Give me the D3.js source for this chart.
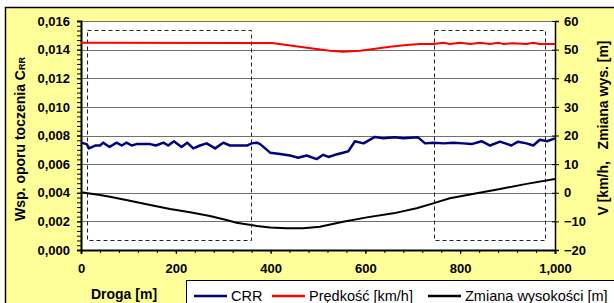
<!DOCTYPE html>
<html>
<head>
<meta charset="utf-8">
<script src="https://cdn.jsdelivr.net/npm/d3@7"></script>
<style>
  body { margin: 0; background: #fff; }
  text { font-family: Arial, "Liberation Sans", sans-serif; }
</style>
</head>
<body>
<div class="chart"></div>
<script>
// CRR (left axis) - distance [m], value
const crrDist = [0, 12, 17, 30, 40, 47, 60, 75, 86, 96, 107, 117, 146, 158, 174, 184, 196, 212, 224, 237,
  251, 265, 283, 300, 314, 350, 360, 371, 378, 399, 420, 441, 458, 476, 497, 511, 522, 536, 553, 564,
  578, 596, 620, 638, 662, 680, 711, 726, 744, 765, 785, 806, 824, 845, 863, 884, 908, 922, 940, 954,
  968, 983, 1000];
const crrVal = [0.0075, 0.0074, 0.0071, 0.0073, 0.0073, 0.0075, 0.0072, 0.0075, 0.0073, 0.0075, 0.0073, 0.0074, 0.0074, 0.0073, 0.0075, 0.0073, 0.0076, 0.0072, 0.0075, 0.0071,
  0.0073, 0.00745, 0.0071, 0.0075, 0.0073, 0.0073, 0.00745, 0.0075, 0.0074, 0.0068, 0.0067, 0.0066, 0.00645, 0.0066, 0.00635, 0.00665, 0.0065, 0.00665, 0.0068, 0.0069,
  0.0076, 0.00745, 0.0079, 0.0078, 0.00787, 0.0078, 0.00787, 0.00745, 0.0075, 0.00745, 0.0075, 0.00745, 0.0074, 0.0076, 0.0073, 0.00757, 0.0073, 0.00757, 0.00745, 0.0073,
  0.0077, 0.0076, 0.0078];

// speed [km/h] (right axis)
const speedDist = [0, 357, 403, 434, 469, 497, 525, 553, 589, 617, 652, 687, 715, 743, 765, 778, 800, 821, 842, 863, 880, 890, 911, 940, 954, 968, 1000];
const speedVal = [52.4, 52.3, 52.3, 51.6, 50.8, 50.2, 49.6, 49.3, 49.6, 50.2, 51.0, 51.6, 52.0, 52.0, 52.4, 52.0, 52.4, 52.0, 52.4, 52.0, 52.4, 52.0, 52.2, 52.0, 52.4, 52.0, 52.0];

// elevation change [m] (right axis)
const elevDist = [0, 40, 61, 103, 146, 188, 230, 272, 307, 328, 371, 399, 434, 469, 504, 553, 603, 659, 708, 743, 778, 835, 884, 940, 1000];
const elevVal = [0.2, -0.8, -1.4, -2.8, -4.3, -5.7, -6.8, -8.1, -9.5, -10.5, -11.6, -12.1, -12.4, -12.4, -11.9, -10.1, -8.6, -7.2, -5.4, -3.7, -1.9, -0.2, 1.3, 3.1, 4.8];

// dashed zones [m] on the distance axis, top/bottom on right axis
const zoneStart = [12, 745];
const zoneEnd = [357, 979];
const zoneTop = 57;
const zoneBottom = -16.3;

const leftTicks = [0, 0.002, 0.004, 0.006, 0.008, 0.010, 0.012, 0.014, 0.016];
const rightTicks = [-20, -10, 0, 10, 20, 30, 40, 50, 60];
const xTicks = [0, 200, 400, 600, 800, 1000];

const W = 614, H = 303;
const margin = ({top: 21, right: 59, bottom: 53, left: 81});

const svg = d3.select('.chart').append('svg')
    .attr("width", W)
    .attr("height", H);

// outer frame
svg.append("rect")
    .attr("x", 5.5).attr("y", 7.5)
    .attr("width", 640).attr("height", 320)
    .attr("fill", "#ffff99")
    .attr("stroke", "#000")
    .attr("stroke-width", 1.5);

const xScale = d3.scaleLinear().domain([0, 1000]).range([margin.left, W - margin.right]);
const yLeft = d3.scaleLinear().domain([0, 0.016]).range([H - margin.bottom, margin.top]);
const yRight = d3.scaleLinear().domain([-20, 60]).range([H - margin.bottom, margin.top]);

// plot area
svg.append("rect")
    .attr("x", xScale(0)).attr("y", yLeft(0.016))
    .attr("width", xScale(1000) - xScale(0))
    .attr("height", yLeft(0) - yLeft(0.016))
    .attr("fill", "#fff");

// gridlines
svg.append("g")
    .selectAll("line")
    .data(leftTicks.slice(1))
    .join("line")
    .attr("x1", xScale(0)).attr("x2", xScale(1000))
    .attr("y1", d => Math.round(yLeft(d)) + 0.5)
    .attr("y2", d => Math.round(yLeft(d)) + 0.5)
    .attr("stroke", "#707070")
    .attr("stroke-width", 1);

// dashed zones
svg.append("g")
    .selectAll("rect")
    .data(zoneStart)
    .join("rect")
    .attr("x", d => Math.round(xScale(d)) + 0.5)
    .attr("y", Math.round(yRight(zoneTop)) + 0.5)
    .attr("width", (d, i) => Math.round(xScale(zoneEnd[i]) - xScale(d)))
    .attr("height", Math.round(yRight(zoneBottom) - yRight(zoneTop)))
    .attr("fill", "none")
    .attr("stroke", "#222")
    .attr("stroke-width", 1)
    .attr("stroke-dasharray", "4,3");

const fmt = d => d3.format(".3f")(d).replace(".", ",");

// left axis
const leftAxis = d3.axisLeft(yLeft).tickValues(leftTicks).tickFormat(fmt).tickSize(4).tickPadding(7);
const leftMinor = d3.range(0, 0.01601, 0.002 / 6);
svg.append("g")
    .attr("transform", `translate(${xScale(0)},0)`)
    .call(d3.axisLeft(yLeft).tickValues(leftMinor).tickFormat("").tickSize(4))
    .call(g => g.select(".domain").remove());
svg.append("g")
    .attr("class", "axis y-axis")
    .attr("transform", `translate(${xScale(0)},0)`)
    .call(leftAxis)
    .call(g => g.select(".domain").attr("stroke-width", 2))
    .selectAll("text")
    .attr("font-size", "13px")
    .attr("font-weight", "bold");

// right axis
svg.append("g")
    .attr("class", "axis y-axis")
    .attr("transform", `translate(${xScale(1000)},0)`)
    .call(d3.axisRight(yRight).tickValues(rightTicks).tickSize(4).tickPadding(5))
    .call(g => g.select(".domain").attr("stroke-width", 1.5))
    .call(g => g.selectAll(".tick line").attr("x1", -3))
    .selectAll("text")
    .attr("font-size", "13px")
    .attr("font-weight", "bold");

// bottom axis
const xMinor = d3.range(0, 1001, 40);
svg.append("g")
    .attr("transform", `translate(0,${yLeft(0)})`)
    .call(d3.axisBottom(xScale).tickValues(xMinor).tickFormat("").tickSize(3))
    .call(g => g.select(".domain").remove());
svg.append("g")
    .attr("class", "axis x-axis")
    .attr("transform", `translate(0,${yLeft(0)})`)
    .call(d3.axisBottom(xScale).tickValues(xTicks).tickSize(4).tickPadding(10))
    .call(g => g.select(".domain").attr("stroke-width", 2))
    .selectAll("text")
    .attr("font-size", "13px")
    .attr("font-weight", "bold");

// series
const lineL = d3.line().x(d => xScale(d[0])).y(d => yLeft(d[1]));
const lineR = d3.line().x(d => xScale(d[0])).y(d => yRight(d[1]));

svg.append("path")
    .datum(elevDist.map((d, i) => [d, elevVal[i]]))
    .attr("fill", "none")
    .attr("stroke", "#000")
    .attr("stroke-width", 2)
    .attr("stroke-linejoin", "round")
    .attr("d", lineR);

svg.append("path")
    .datum(speedDist.map((d, i) => [d, speedVal[i]]))
    .attr("fill", "none")
    .attr("stroke", "#ff0000")
    .attr("stroke-width", 2)
    .attr("stroke-linejoin", "round")
    .attr("d", lineR);

svg.append("path")
    .datum(crrDist.map((d, i) => [d, crrVal[i]]))
    .attr("fill", "none")
    .attr("stroke", "#000080")
    .attr("stroke-width", 2.5)
    .attr("stroke-linejoin", "round")
    .attr("d", lineL);

// axis titles
const leftTitle = svg.append("text")
    .attr("transform", "translate(25,139) rotate(-90)")
    .attr("text-anchor", "middle")
    .attr("font-size", "14px")
    .attr("font-weight", "bold");
leftTitle.append("tspan").text("Wsp. oporu toczenia C");
leftTitle.append("tspan").attr("font-size", "9px").text("RR");

svg.append("text")
    .attr("transform", "translate(608,128) rotate(-90)")
    .attr("text-anchor", "middle")
    .attr("font-size", "14px")
    .attr("font-weight", "bold")
    .attr("xml:space", "preserve")
    .style("white-space", "pre")
    .text("V [km/h,   Zmiana wys. [m]");

svg.append("text")
    .attr("x", 124).attr("y", 299)
    .attr("text-anchor", "middle")
    .attr("font-size", "14px")
    .attr("font-weight", "bold")
    .text("Droga [m]");

// legend
const legendNames = ["CRR", "Prędkość [km/h]", "Zmiana wysokości [m]"];
const legendColors = ["#000080", "#ff0000", "#000"];
const legendX = [194, 272, 428];

svg.append("rect")
    .attr("x", 186.5).attr("y", 280.5)
    .attr("width", 500).attr("height", 60)
    .attr("fill", "#fff")
    .attr("stroke", "#000")
    .attr("stroke-width", 1);

const item = svg.append("g")
    .selectAll("g")
    .data(legendNames)
    .join("g")
    .attr("transform", (d, i) => `translate(${legendX[i]},0)`);
item.append("line")
    .attr("x1", 0).attr("x2", 33)
    .attr("y1", 296).attr("y2", 296)
    .attr("stroke", (d, i) => legendColors[i])
    .attr("stroke-width", 2.5);
item.append("text")
    .attr("x", 37).attr("y", 301)
    .attr("font-size", "14.5px")
    .text(d => d);
</script>
</body>
</html>
